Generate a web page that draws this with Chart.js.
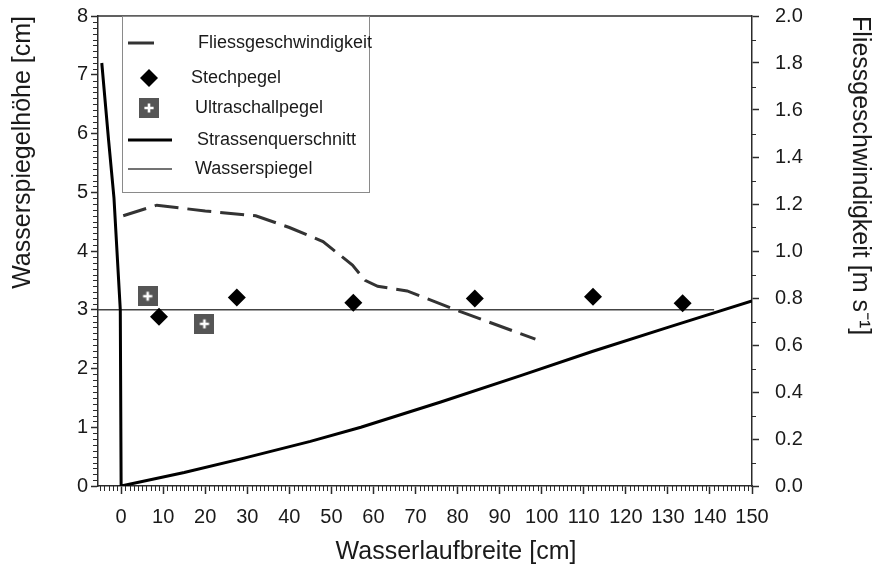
<!DOCTYPE html>
<html>
<head>
<meta charset="utf-8">
<script src="https://cdn.jsdelivr.net/npm/chart.js@4.4.1/dist/chart.umd.min.js"></script>
<style>
  html, body { margin: 0; padding: 0; background: #ffffff; }
  #wrap { width: 881px; height: 574px; }
</style>
</head>
<body>
<div id="wrap"><canvas id="chart" width="881" height="574"></canvas></div>
<script>
// Tick labels
const xTickValues = [0, 10, 20, 30, 40, 50, 60, 70, 80, 90, 100, 110, 120, 130, 140, 150];
const leftTickValues = [0, 1, 2, 3, 4, 5, 6, 7, 8];
const rightTickValues = [0, 0.2, 0.4, 0.6, 0.8, 1.0, 1.2, 1.4, 1.6, 1.8, 2.0];

// Series labels
const seriesLabels = ['Fliessgeschwindigkeit', 'Stechpegel', 'Ultraschallpegel', 'Strassenquerschnitt', 'Wasserspiegel'];

// Fliessgeschwindigkeit [m/s] along the channel width [cm]
const velocityX = [0.5, 8.5, 20, 32, 40, 48, 55, 58, 61, 68, 81, 98.5];
const velocityY = [1.15, 1.195, 1.17, 1.15, 1.10, 1.04, 0.94, 0.875, 0.85, 0.83, 0.74, 0.625];

// Stechpegel readings [cm]
const gaugeX = [9, 27.5, 55.2, 84.1, 112.2, 133.5];
const gaugeY = [2.88, 3.21, 3.12, 3.19, 3.22, 3.11];

// Ultraschallpegel readings [cm]
const ultrasonicX = [6.3, 19.8];
const ultrasonicY = [3.23, 2.76];

// Road cross-section (kerb and carriageway) [cm]
const roadX = [-4.6, -3.0, -1.7, -0.2, 0, 15, 29, 45, 57, 76, 95, 112, 130, 150];
const roadY = [7.2, 5.9, 4.9, 3.0, 0, 0.23, 0.47, 0.76, 1.0, 1.43, 1.88, 2.29, 2.7, 3.15];

// Water surface [cm]
const waterX = [-5.5, 141];
const waterY = [3, 3];

const pts = (xs, ys) => xs.map((x, i) => ({ x: x, y: ys[i] }));

const INK = '#1a1a1a';
const AXIS = '#2b2b2b';
const FONT = '"Liberation Sans", Arial, Helvetica, sans-serif';

// Grey square with a white cross, used as the Ultraschallpegel marker
function makeCrossBox(size) {
  const c = document.createElement('canvas');
  c.width = size; c.height = size;
  const g = c.getContext('2d');
  g.fillStyle = '#555555';
  g.fillRect(0, 0, size, size);
  g.strokeStyle = '#ffffff';
  g.lineWidth = 2.6;
  g.beginPath();
  g.moveTo(size / 2, size * 0.27); g.lineTo(size / 2, size * 0.73);
  g.moveTo(size * 0.27, size / 2); g.lineTo(size * 0.73, size / 2);
  g.stroke();
  return c;
}
const crossBox = makeCrossBox(20);

// Minor ticks, top frame line and the bottom axis title
const framePlugin = {
  id: 'frame',
  afterDraw(chart) {
    const { ctx, chartArea: a, scales } = chart;
    ctx.save();
    ctx.strokeStyle = AXIS;
    ctx.lineWidth = 1;
    ctx.beginPath();
    // x minor ticks every 1 cm
    for (let v = -5; v <= 150; v++) {
      if (v % 10 === 0) continue;
      const px = Math.round(scales.x.getPixelForValue(v)) + 0.5;
      ctx.moveTo(px, a.bottom); ctx.lineTo(px, a.bottom + 5);
    }
    // left minor ticks every 0.1 cm
    for (let i = 1; i < 80; i++) {
      if (i % 10 === 0) continue;
      const py = Math.round(scales.y.getPixelForValue(i / 10)) + 0.5;
      ctx.moveTo(a.left - 5, py); ctx.lineTo(a.left, py);
    }
    // right minor ticks every 0.1 m/s
    for (let i = 1; i < 20; i += 2) {
      const py = Math.round(scales.y1.getPixelForValue(i / 10)) + 0.5;
      ctx.moveTo(a.right, py); ctx.lineTo(a.right + 4, py);
    }
    ctx.stroke();
    // top frame
    ctx.lineWidth = 1.5;
    ctx.beginPath();
    ctx.moveTo(a.left, a.top); ctx.lineTo(a.right, a.top);
    ctx.stroke();
    // bottom axis title
    ctx.fillStyle = INK;
    ctx.font = '25px ' + FONT;
    ctx.textAlign = 'center';
    ctx.textBaseline = 'middle';
    ctx.fillText('Wasserlaufbreite [cm]', 456, 552);
    ctx.restore();
  }
};

// Boxed legend inside the plot, upper left
const legendPlugin = {
  id: 'boxLegend',
  afterDraw(chart) {
    const { ctx } = chart;
    const ds = chart.data.datasets;
    const rows = [
      { y: 43, tx: 198, kind: 'line', x0: 128, x1: 154 },
      { y: 78, tx: 191, kind: 'point', cx: 149 },
      { y: 108, tx: 195, kind: 'point', cx: 149 },
      { y: 140, tx: 197, kind: 'line', x0: 128, x1: 172 },
      { y: 169, tx: 195, kind: 'line', x0: 128, x1: 172 }
    ];
    ctx.save();
    ctx.fillStyle = '#ffffff';
    ctx.fillRect(122, 16, 248, 177);
    ctx.strokeStyle = '#8a8a8a';
    ctx.lineWidth = 1;
    ctx.strokeRect(122.5, 16.5, 247, 176);
    rows.forEach((r, i) => {
      const d = ds[i];
      if (r.kind === 'line') {
        ctx.strokeStyle = d.borderColor;
        ctx.lineWidth = d.borderWidth;
        ctx.setLineDash([]);
        ctx.beginPath();
        ctx.moveTo(r.x0, r.y); ctx.lineTo(r.x1, r.y);
        ctx.stroke();
      } else if (d.pointStyle === 'rectRot') {
        ctx.fillStyle = d.backgroundColor;
        ctx.beginPath();
        const s = d.pointRadius;
        ctx.moveTo(r.cx, r.y - s); ctx.lineTo(r.cx + s, r.y);
        ctx.lineTo(r.cx, r.y + s); ctx.lineTo(r.cx - s, r.y);
        ctx.closePath(); ctx.fill();
      } else {
        Chart.helpers.drawPoint(ctx, {
          pointStyle: d.pointStyle,
          radius: d.pointRadius,
          rotation: 0,
          borderWidth: 0
        }, r.cx, r.y);
      }
      ctx.fillStyle = INK;
      ctx.font = '18px ' + FONT;
      ctx.textAlign = 'left';
      ctx.textBaseline = 'middle';
      ctx.fillText(d.label, r.tx, r.y);
    });
    ctx.restore();
  }
};

const tickFont = { family: FONT, size: 20 };
const titleFont = { family: FONT, size: 25 };

// Fixed axis box sizes so the plot area sits at left 98, right 752, top 16, bottom 486
const fitVertical = w => s => { s.width = w; s.paddingTop = 0; s.paddingBottom = 0; };

new Chart(document.getElementById('chart'), {
  type: 'scatter',
  data: {
    datasets: [
      {
        label: seriesLabels[0],
        data: pts(velocityX, velocityY),
        yAxisID: 'y1',
        showLine: true,
        borderColor: '#333333',
        borderWidth: 3,
        borderDash: [24, 9],
        pointRadius: 0,
        tension: 0
      },
      {
        label: seriesLabels[1],
        data: pts(gaugeX, gaugeY),
        yAxisID: 'y',
        showLine: false,
        pointStyle: 'rectRot',
        pointRadius: 9,
        backgroundColor: '#000000',
        borderColor: '#000000',
        borderWidth: 0
      },
      {
        label: seriesLabels[2],
        data: pts(ultrasonicX, ultrasonicY),
        yAxisID: 'y',
        showLine: false,
        pointStyle: crossBox,
        pointRadius: 10
      },
      {
        label: seriesLabels[3],
        data: pts(roadX, roadY),
        yAxisID: 'y',
        showLine: true,
        borderColor: '#000000',
        borderWidth: 3,
        pointRadius: 0,
        tension: 0
      },
      {
        label: seriesLabels[4],
        data: pts(waterX, waterY),
        yAxisID: 'y',
        showLine: true,
        borderColor: '#444444',
        borderWidth: 1.5,
        pointRadius: 0,
        tension: 0
      }
    ]
  },
  options: {
    responsive: false,
    animation: false,
    events: [],
    layout: { padding: { top: 16, left: 0, right: 0, bottom: 0 } },
    plugins: { legend: { display: false }, tooltip: { enabled: false }, title: { display: false } },
    scales: {
      x: {
        type: 'linear',
        position: 'bottom',
        min: -5.5,
        max: 150,
        afterBuildTicks: s => { s.ticks = xTickValues.map(v => ({ value: v })); },
        afterFit: s => { s.height = 88; s.paddingLeft = 0; s.paddingRight = 0; },
        ticks: { color: INK, font: tickFont, padding: 11, maxRotation: 0, autoSkip: false, callback: v => String(v) },
        grid: { drawOnChartArea: false, drawTicks: true, tickLength: 8, tickColor: AXIS, tickWidth: 1.5 },
        border: { color: AXIS, width: 1.5 }
      },
      y: {
        type: 'linear',
        position: 'left',
        min: 0,
        max: 8,
        afterBuildTicks: s => { s.ticks = leftTickValues.map(v => ({ value: v })); },
        afterFit: fitVertical(98),
        ticks: { color: INK, font: tickFont, padding: 3, autoSkip: false, callback: v => String(v) },
        grid: { drawOnChartArea: false, drawTicks: true, tickLength: 7, tickColor: AXIS, tickWidth: 1.5 },
        border: { color: AXIS, width: 1.5 },
        title: { display: true, text: 'Wasserspiegelhöhe [cm]', color: INK, font: titleFont, align: 'end', padding: { top: 8, bottom: 0 } }
      },
      y1: {
        type: 'linear',
        position: 'right',
        min: 0,
        max: 2,
        afterBuildTicks: s => { s.ticks = rightTickValues.map(v => ({ value: v })); },
        afterFit: fitVertical(129),
        ticks: { color: INK, font: tickFont, padding: 16, autoSkip: false, callback: v => Number(v).toFixed(1) },
        grid: { drawOnChartArea: false, drawTicks: true, tickLength: 7, tickColor: AXIS, tickWidth: 1.5 },
        border: { color: AXIS, width: 1.5 },
        title: { display: true, text: 'Fliessgeschwindigkeit [m s⁻¹]', color: INK, font: titleFont, align: 'end', padding: { top: 6, bottom: 0 } }
      }
    }
  },
  plugins: [framePlugin, legendPlugin]
});
</script>
</body>
</html>
